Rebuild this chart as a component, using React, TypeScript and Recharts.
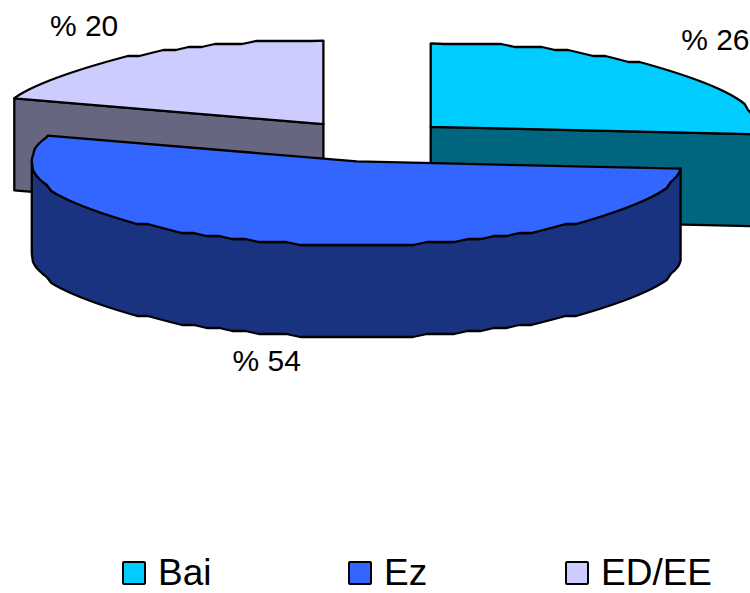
import React from "react";
import { PieChart, Pie, Legend } from "recharts";

const categories = ["Bai", "Ez", "ED/EE"];
const shares = [26.4, 53.6, 20];
const topColors = ["#00CCFF", "#3366FF", "#CCCCFF"];
const sideColors = ["#006680", "#1A3380", "#666680"];
const labelNudges = [[-15, -6], [-7, -12], [-0.5, -1]];
const sliceNudges = [0, 2, 0];
const legendLefts = [122, 348, 565];

const data = categories.map((name, i) => ({ name, value: shares[i], fill: topColors[i], side: sideColors[i] }));

const SQUASH = 0.257;
const DEPTH = 92;
const EXPLODE = 81;
const FRONT = "Ez";
const rad = (d: number) => (d * Math.PI) / 180;
const nameOf = (p: any) => p.name ?? p.payload?.name;

function geometry(p: any) {
  const mid = (p.startAngle + p.endAngle) / 2;
  const cx = p.cx + EXPLODE * Math.cos(rad(mid)) + sliceNudges[categories.indexOf(nameOf(p))];
  const cy = p.cy - EXPLODE * Math.sin(rad(mid)) * SQUASH;
  const r = p.outerRadius;
  const pt = (a: number, snap = true): [number, number] => {
    const y = cy - r * SQUASH * Math.sin(rad(a));
    return [cx + r * Math.cos(rad(a)), snap ? Math.round((y - 2) / 3) * 3 + 2 : y];
  };
  return { cx, cy, r, pt, mid };
}

const toPath = (pts: [number, number][]) =>
  pts.map((q, i) => `${i ? "L" : "M"}${q[0].toFixed(1)} ${q[1].toFixed(1)}`).join(" ") + " Z";

function Wedge(p: any) {
  const { cx, cy, pt } = geometry(p);
  const s = p.startAngle;
  const e = p.endAngle;
  const arc: number[] = [];
  for (let a = s; a > e; a -= 2.5) arc.push(a);
  arc.push(e);
  const outline: [number, number][] = arc.map((a, i) => pt(a, i > 0 && i < arc.length - 1));
  const apex: [number, number] = [cx, cy];
  const down = (q: [number, number]): [number, number] => [q[0], q[1] + DEPTH];
  const faces: React.ReactNode[] = [];
  const side = p.payload?.side ?? p.side;
  const style = { fill: side, stroke: "#000", strokeWidth: 2.3, strokeLinejoin: "round" as const };
  const addCut = (a: number, key: string) => {
    const q = pt(a, false);
    faces.push(<path key={key} d={toPath([apex, q, down(q), down(apex)])} {...style} />);
  };
  if (Math.cos(rad(s)) < -1e-6) addCut(s, "cs");
  if (Math.cos(rad(e)) > 1e-6) addCut(e, "ce");
  const rim = outline.filter((_, i) => Math.sin(rad(arc[i])) <= 0.001);
  if (rim.length > 1) {
    faces.push(<path key="rim" d={toPath([...rim, ...rim.slice().reverse().map(down)])} {...style} />);
  }
  return (
    <g>
      {faces}
      <path d={toPath([apex, ...outline])} fill={p.fill} stroke="#000" strokeWidth={2.3} strokeLinejoin="round" />
    </g>
  );
}

const BackShape = (p: any) => (nameOf(p) === FRONT ? <g /> : <Wedge {...p} />);
const FrontShape = (p: any) => (nameOf(p) === FRONT ? <Wedge {...p} /> : <g />);

function renderLabel(p: any) {
  const i = categories.indexOf(nameOf(p));
  const m = (p.startAngle + p.endAngle) / 2;
  const cx = p.cx + EXPLODE * Math.cos(rad(m));
  const cy = p.cy - EXPLODE * Math.sin(rad(m)) * SQUASH;
  const r = p.outerRadius;
  const sn = Math.sin(rad(m));
  const x = cx + 1.25 * r * Math.cos(rad(m)) + labelNudges[i][0];
  const y = cy - 1.45 * r * SQUASH * sn + (sn < 0 ? DEPTH : 0) + labelNudges[i][1];
  return (
    <text key={i} x={x} y={y} textAnchor="middle" dominantBaseline="central" fontSize={30} fill="#000">
      {`% ${Math.round(p.value)}`}
    </text>
  );
}

function LegendBox() {
  return (
    <div style={{ position: "relative", width: 750, height: 44, fontSize: 37, lineHeight: "44px", color: "#000" }}>
      {categories.map((name, i) => (
        <div key={name} style={{ position: "absolute", left: legendLefts[i], top: 0, display: "flex", alignItems: "center", whiteSpace: "nowrap" }}>
          <span
            style={{
              width: 20,
              height: 20,
              border: "2px solid #000",
              borderRadius: 2,
              background: topColors[i],
              marginRight: 12,
              display: "inline-block",
            }}
          />
          <span>{name}</span>
        </div>
      ))}
    </div>
  );
}

export default function App() {
  return (
    <div style={{ position: "absolute", left: 0, top: 0, width: 750, height: 593, fontFamily: "'Liberation Sans', Arial, sans-serif", overflow: "hidden" }}>
      <PieChart width={750} height={593} margin={{ top: 0, right: 0, bottom: 0, left: 0 }}>
        <Pie
          data={data}
          dataKey="value"
          nameKey="name"
          cx={371}
          cy={141}
          outerRadius={325}
          startAngle={90}
          endAngle={-270}
          paddingAngle={0}
          stroke="none"
          isAnimationActive={false}
          legendType="none"
          shape={BackShape}
          label={renderLabel}
          labelLine={false}
        />
        <Pie
          data={data}
          dataKey="value"
          nameKey="name"
          cx={371}
          cy={141}
          outerRadius={325}
          startAngle={90}
          endAngle={-270}
          stroke="none"
          isAnimationActive={false}
          legendType="none"
          shape={FrontShape}
        />
        <Legend
          content={<LegendBox />}
          wrapperStyle={{ position: "absolute", left: 0, top: 551, width: 750, height: 44, bottom: "auto" }}
        />
      </PieChart>
    </div>
  );
}
